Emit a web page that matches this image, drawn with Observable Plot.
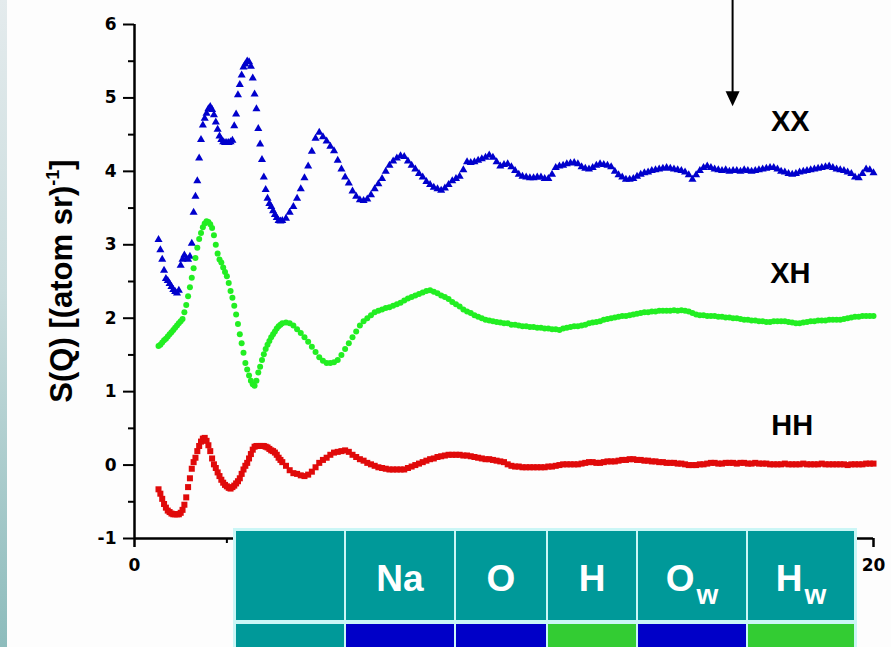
<!DOCTYPE html>
<html>
<head>
<meta charset="utf-8">
<script src="https://cdn.jsdelivr.net/npm/d3@7"></script>
<script src="https://cdn.jsdelivr.net/npm/@observablehq/plot@0.6"></script>
<style>
  html, body { margin: 0; padding: 0; }
  body { width: 891px; height: 647px; overflow: hidden; background: #fdfdfd; font-family: "Liberation Sans", Arial, sans-serif; }
  #wrap { position: relative; width: 891px; height: 647px; }
  #strip { position: absolute; left: 0; top: 0; width: 7px; height: 647px; background: linear-gradient(#e4ebed, #c9dcdd 45%, #8dbcbc); }
  #chart { position: absolute; left: 0; top: 0; }
</style>
</head>
<body>
<div id="wrap">
  <div id="strip"></div>
  <div id="chart"></div>
</div>
<script>
// Momentum transfer Q (Å⁻¹): finer sampling below 4, then 0.1 steps
const q = [
  0.65,0.70,0.75,0.80,0.85,0.90,0.95,1.00,1.05,1.10,
  1.15,1.20,1.25,1.30,1.35,1.40,1.45,1.50,1.55,1.60,
  1.65,1.70,1.75,1.80,1.85,1.90,1.95,2.00,2.05,2.10,
  2.15,2.20,2.25,2.30,2.35,2.40,2.45,2.50,2.55,2.60,
  2.65,2.70,2.75,2.80,2.85,2.90,2.95,3.00,3.05,3.10,
  3.15,3.20,3.25,3.30,3.35,3.40,3.45,3.50,3.55,3.60,
  3.65,3.70,3.75,3.80,3.85,3.90,3.95,4.00,
  4.1,4.2,4.3,4.4,4.5,4.6,4.7,4.8,4.9,5.0,
  5.1,5.2,5.3,5.4,5.5,5.6,5.7,5.8,5.9,6.0,
  6.1,6.2,6.3,6.4,6.5,6.6,6.7,6.8,6.9,7.0,
  7.1,7.2,7.3,7.4,7.5,7.6,7.7,7.8,7.9,8.0,
  8.1,8.2,8.3,8.4,8.5,8.6,8.7,8.8,8.9,9.0,
  9.1,9.2,9.3,9.4,9.5,9.6,9.7,9.8,9.9,10.0,
  10.1,10.2,10.3,10.4,10.5,10.6,10.7,10.8,10.9,11.0,
  11.1,11.2,11.3,11.4,11.5,11.6,11.7,11.8,11.9,12.0,
  12.1,12.2,12.3,12.4,12.5,12.6,12.7,12.8,12.9,13.0,
  13.1,13.2,13.3,13.4,13.5,13.6,13.7,13.8,13.9,14.0,
  14.1,14.2,14.3,14.4,14.5,14.6,14.7,14.8,14.9,15.0,
  15.1,15.2,15.3,15.4,15.5,15.6,15.7,15.8,15.9,16.0,
  16.1,16.2,16.3,16.4,16.5,16.6,16.7,16.8,16.9,17.0,
  17.1,17.2,17.3,17.4,17.5,17.6,17.7,17.8,17.9,18.0,
  18.1,18.2,18.3,18.4,18.5,18.6,18.7,18.8,18.9,19.0,
  19.1,19.2,19.3,19.4,19.5,19.6,19.7,19.8,19.9,20.0
];

// Partial structure factor X–X (offset +4)
const sXX = [
  3.07,2.93,2.80,2.65,2.54,2.51,2.47,2.43,2.39,2.36,
  2.34,2.38,2.72,2.80,2.86,2.81,2.80,2.84,3.02,3.44,
  3.66,3.87,4.18,4.43,4.63,4.72,4.79,4.85,4.88,4.84,
  4.77,4.67,4.57,4.48,4.43,4.40,4.39,4.39,4.39,4.40,
  4.42,4.62,4.78,5.04,5.18,5.31,5.42,5.46,5.50,5.49,
  5.43,5.27,5.05,4.85,4.58,4.37,4.16,3.92,3.75,3.63,
  3.56,3.52,3.46,3.41,3.37,3.33,3.32,3.33,
  3.36,3.44,3.52,3.63,3.76,3.91,4.07,4.27,4.45,4.53,
  4.47,4.41,4.34,4.28,4.15,4.03,3.92,3.84,3.73,3.66,
  3.61,3.60,3.62,3.68,3.76,3.83,3.90,4.00,4.08,4.14,
  4.18,4.21,4.20,4.14,4.08,4.03,3.97,3.92,3.86,3.82,
  3.78,3.76,3.74,3.77,3.82,3.87,3.90,3.93,4.02,4.13,
  4.12,4.13,4.15,4.17,4.19,4.22,4.19,4.13,4.07,4.09,
  4.10,4.06,4.01,3.96,3.93,3.92,3.91,3.91,3.92,3.92,
  3.90,3.90,3.96,4.05,4.07,4.08,4.10,4.11,4.12,4.10,
  4.06,4.04,4.03,4.05,4.08,4.10,4.09,4.08,4.06,4.00,
  3.95,3.92,3.89,3.89,3.90,3.93,3.96,3.98,3.99,4.01,
  4.02,4.03,4.04,4.05,4.04,4.03,4.02,4.01,3.99,3.95,
  3.89,3.95,4.01,4.05,4.07,4.05,4.03,4.02,4.01,4.02,
  4.00,4.01,4.01,4.00,4.02,4.01,4.00,4.01,4.02,4.03,
  4.04,4.05,4.05,4.03,4.00,3.99,3.97,3.96,3.97,3.99,
  4.00,4.01,4.02,4.03,4.04,4.05,4.06,4.07,4.05,4.03,
  4.02,4.01,3.99,3.97,3.92,3.91,3.97,4.03,4.02,3.98
];

// Partial structure factor X–H (offset +2)
const sXH = [
  1.62,1.64,1.67,1.70,1.72,1.75,1.78,1.81,1.84,1.87,
  1.90,1.93,1.96,1.99,2.08,2.18,2.30,2.42,2.55,2.68,
  2.82,2.96,3.08,3.16,3.24,3.29,3.32,3.31,3.28,3.23,
  3.13,3.00,2.88,2.80,2.76,2.69,2.63,2.57,2.48,2.37,
  2.28,2.17,2.05,1.92,1.78,1.66,1.53,1.39,1.30,1.22,
  1.15,1.10,1.08,1.15,1.26,1.34,1.43,1.51,1.58,1.64,
  1.69,1.74,1.78,1.82,1.86,1.89,1.91,1.93,
  1.94,1.93,1.90,1.85,1.80,1.74,1.68,1.61,1.54,1.47,
  1.42,1.39,1.39,1.40,1.43,1.50,1.58,1.66,1.74,1.82,
  1.90,1.96,2.00,2.04,2.08,2.10,2.12,2.14,2.15,2.17,
  2.19,2.21,2.24,2.27,2.29,2.31,2.33,2.35,2.37,2.38,
  2.36,2.34,2.31,2.29,2.26,2.22,2.19,2.16,2.12,2.09,
  2.07,2.04,2.02,2.00,1.98,1.97,1.96,1.95,1.94,1.93,
  1.93,1.91,1.91,1.90,1.89,1.89,1.88,1.88,1.87,1.87,
  1.86,1.86,1.85,1.85,1.84,1.86,1.87,1.88,1.89,1.89,
  1.90,1.91,1.93,1.94,1.95,1.96,1.98,1.99,2.00,2.01,
  2.02,2.03,2.03,2.04,2.05,2.06,2.07,2.08,2.08,2.09,
  2.09,2.10,2.10,2.10,2.10,2.11,2.10,2.11,2.10,2.09,
  2.07,2.05,2.04,2.04,2.03,2.03,2.03,2.02,2.02,2.01,
  2.01,2.00,2.00,1.99,1.98,1.98,1.97,1.97,1.96,1.96,
  1.95,1.95,1.96,1.96,1.96,1.96,1.95,1.94,1.93,1.93,
  1.94,1.95,1.96,1.96,1.97,1.97,1.97,1.98,1.98,1.98,
  1.98,1.99,2.00,2.01,2.02,2.02,2.03,2.03,2.03,2.03
];

// Partial structure factor H–H (no offset)
const sHH = [
  -0.33,-0.39,-0.46,-0.53,-0.58,-0.62,-0.64,-0.66,-0.67,-0.67,
  -0.67,-0.67,-0.65,-0.61,-0.54,-0.44,-0.30,-0.18,-0.05,0.04,
  0.10,0.19,0.26,0.32,0.36,0.37,0.33,0.27,0.19,0.09,
  0.01,-0.04,-0.10,-0.15,-0.20,-0.24,-0.27,-0.29,-0.31,-0.32,
  -0.30,-0.28,-0.25,-0.22,-0.18,-0.12,-0.06,-0.01,0.03,0.09,
  0.15,0.21,0.25,0.26,0.26,0.26,0.26,0.26,0.25,0.24,
  0.22,0.20,0.19,0.17,0.14,0.10,0.07,0.04,
  -0.01,-0.07,-0.11,-0.12,-0.14,-0.15,-0.13,-0.09,-0.03,0.03,
  0.07,0.10,0.14,0.17,0.18,0.19,0.20,0.18,0.14,0.11,
  0.08,0.06,0.03,0.01,-0.01,-0.03,-0.04,-0.05,-0.06,-0.06,
  -0.06,-0.06,-0.06,-0.04,-0.02,0.00,0.02,0.04,0.06,0.08,
  0.09,0.11,0.12,0.13,0.14,0.14,0.14,0.14,0.13,0.13,
  0.12,0.11,0.10,0.09,0.08,0.08,0.07,0.06,0.05,0.04,
  0.01,-0.01,-0.02,-0.02,-0.03,-0.03,-0.03,-0.03,-0.03,-0.03,
  -0.03,-0.02,-0.02,-0.01,0.00,0.01,0.01,0.01,0.01,0.01,
  0.02,0.03,0.04,0.04,0.03,0.03,0.04,0.05,0.05,0.05,
  0.06,0.07,0.07,0.08,0.08,0.07,0.07,0.06,0.06,0.05,
  0.05,0.04,0.04,0.03,0.03,0.03,0.02,0.02,0.01,0.00,
  0.00,0.00,0.01,0.01,0.02,0.03,0.03,0.02,0.02,0.03,
  0.03,0.03,0.02,0.03,0.03,0.02,0.02,0.03,0.02,0.02,
  0.02,0.01,0.01,0.01,0.01,0.02,0.01,0.01,0.01,0.01,
  0.02,0.01,0.01,0.01,0.01,0.02,0.01,0.01,0.01,0.01,
  0.01,0.01,0.00,0.01,0.01,0.01,0.01,0.02,0.02,0.02
];

// Axis ticks (only the end labels of Q are left uncovered by the inset table)
const xMajor = [0, 5, 10, 15, 20];
const xLabeled = [0, 20];
const xMinor = [2.5, 7.5, 12.5, 17.5];
const yMajor = [-1, 0, 1, 2, 3, 4, 5, 6];
const yMinor = [-0.5, 0.5, 1.5, 2.5, 3.5, 4.5, 5.5];

// Series names and the atom groups of the inset table
const seriesNames = ["XX", "XH", "HH"];
const atomLabels = ["", "Na", "O", "H", "O", "H"];
const atomSubscripts = ["", "", "", "", "w", "w"];
const atomGroups = ["", "X", "X", "H", "X", "H"];

// Styling and placement
const seriesStyle = {
  XX: {symbol: "triangle", fill: "#0000cc", r: 3.0},
  XH: {symbol: "circle", fill: "#22ee22", r: 3.0},
  HH: {symbol: "square", fill: "#e00a0a", r: 3.4}
};
const labelPos = {XX: [17.75, 4.67], XH: [17.75, 2.6], HH: [17.8, 0.54]};
const groupColor = {"": "#009999", X: "#0000c8", H: "#33cc33"};
const colEdges = [236, 346, 456, 548, 638, 748, 856];
const rowEdges = [531, 620, 624, 660];

const toRows = (vals) => q.map((d, i) => ({q: d, s: vals[i]}));
const rows = {XX: toRows(sXX), XH: toRows(sXH), HH: toRows(sHH)};

const font = "'Liberation Sans', Arial, Helvetica, sans-serif";
const tickFont = "'DejaVu Sans', Verdana, sans-serif";

const chart = Plot.plot({
  width: 891,
  height: 647,
  marginLeft: 134,
  marginRight: 18,
  marginTop: 24,
  marginBottom: 109,
  x: {domain: [0, 20], label: null},
  y: {domain: [-1, 6], label: null},
  style: {background: "transparent", fontFamily: font, color: "#000", overflow: "visible"},
  marks: [
    Plot.axisY({ticks: yMajor, tickSize: 11, tickPadding: 7, strokeWidth: 2, tickFormat: (d) => String(d), label: null}),
    Plot.axisY({ticks: yMinor, tickSize: 6, strokeWidth: 2, tickFormat: () => "", label: null}),
    Plot.axisX({ticks: xMajor, tickSize: 9, strokeWidth: 2, tickFormat: () => "", label: null}),
    Plot.axisX({ticks: xLabeled, tickSize: 9, tickPadding: 11, strokeWidth: 2, tickFormat: (d) => String(d), label: null}),
    Plot.axisX({ticks: xMinor, tickSize: 5, strokeWidth: 2, tickFormat: () => "", label: null}),
    Plot.ruleX([0], {y1: -1, y2: 6, strokeWidth: 2.5}),
    Plot.ruleY([-1], {x1: 0, x2: 20, strokeWidth: 2.5}),
    ...seriesNames.map((name) =>
      Plot.dot(rows[name], {x: "q", y: "s", symbol: seriesStyle[name].symbol, r: seriesStyle[name].r, fill: seriesStyle[name].fill, stroke: "none"})
    ),
    Plot.text(seriesNames, {
      x: (d) => labelPos[d][0],
      y: (d) => labelPos[d][1],
      text: (d) => d,
      fontSize: 29,
      fontWeight: "bold",
      fill: "#000"
    })
  ]
});

document.getElementById("chart").appendChild(chart);

const svg = d3.select(chart);

// Heavier, wider numerals for the tick labels
svg.selectAll("text")
  .filter(function () { return /^-?\d+$/.test(this.textContent.trim()); })
  .attr("font-family", tickFont)
  .attr("font-size", 17)
  .attr("font-weight", "bold")
  .style("font-family", tickFont)
  .style("font-size", "17px")
  .style("font-weight", "bold");

// Y-axis title with superscript
const title = svg.append("text")
  .attr("transform", "translate(72,281) rotate(-90)")
  .attr("text-anchor", "middle")
  .attr("font-family", font)
  .attr("font-weight", "bold")
  .attr("font-size", 31)
  .attr("fill", "#000");
title.append("tspan").text("S(Q) [(atom sr)");
title.append("tspan").attr("font-size", 18).attr("dy", -13).text("-1");
title.append("tspan").attr("dy", 13).text("]");

// Pointer arrow above the XX curve
const xs = chart.scale("x"), ys = chart.scale("y");
const arrowQ = 16.2, arrowTop = 6.4, arrowTip = 4.88;
const ax = xs.apply(arrowQ), ay0 = ys.apply(arrowTop), ay1 = ys.apply(arrowTip);
svg.append("line").attr("x1", ax).attr("x2", ax).attr("y1", ay0).attr("y2", ay1 - 10)
  .attr("stroke", "#000").attr("stroke-width", 2);
svg.append("path").attr("d", `M${ax - 7},${ay1 - 15}L${ax + 7},${ay1 - 15}L${ax},${ay1}Z`).attr("fill", "#000");

// Inset table of atom types, coloured by group
const table = svg.append("g");
table.append("rect")
  .attr("x", colEdges[0] - 3).attr("y", rowEdges[0] - 3)
  .attr("width", colEdges[colEdges.length - 1] - colEdges[0] + 4)
  .attr("height", 647 - rowEdges[0] + 3)
  .attr("fill", "#cbf6f6");
atomLabels.forEach((lab, i) => {
  const x0 = colEdges[i], w = colEdges[i + 1] - colEdges[i] - 2;
  table.append("rect").attr("x", x0).attr("y", rowEdges[0]).attr("width", w)
    .attr("height", rowEdges[1] - rowEdges[0]).attr("fill", groupColor[""]);
  table.append("rect").attr("x", x0).attr("y", rowEdges[2]).attr("width", w)
    .attr("height", rowEdges[3] - rowEdges[2]).attr("fill", groupColor[atomGroups[i]]);
  if (lab) {
    const t = table.append("text")
      .attr("x", x0 + w / 2).attr("y", 591)
      .attr("text-anchor", "middle")
      .attr("font-family", font).attr("font-weight", "bold")
      .attr("font-size", 37).attr("fill", "#fff");
    t.append("tspan").text(lab);
    if (atomSubscripts[i]) t.append("tspan").attr("font-size", 28).attr("dy", 13).attr("dx", 2).text(atomSubscripts[i]);
  }
});
</script>
</body>
</html>
